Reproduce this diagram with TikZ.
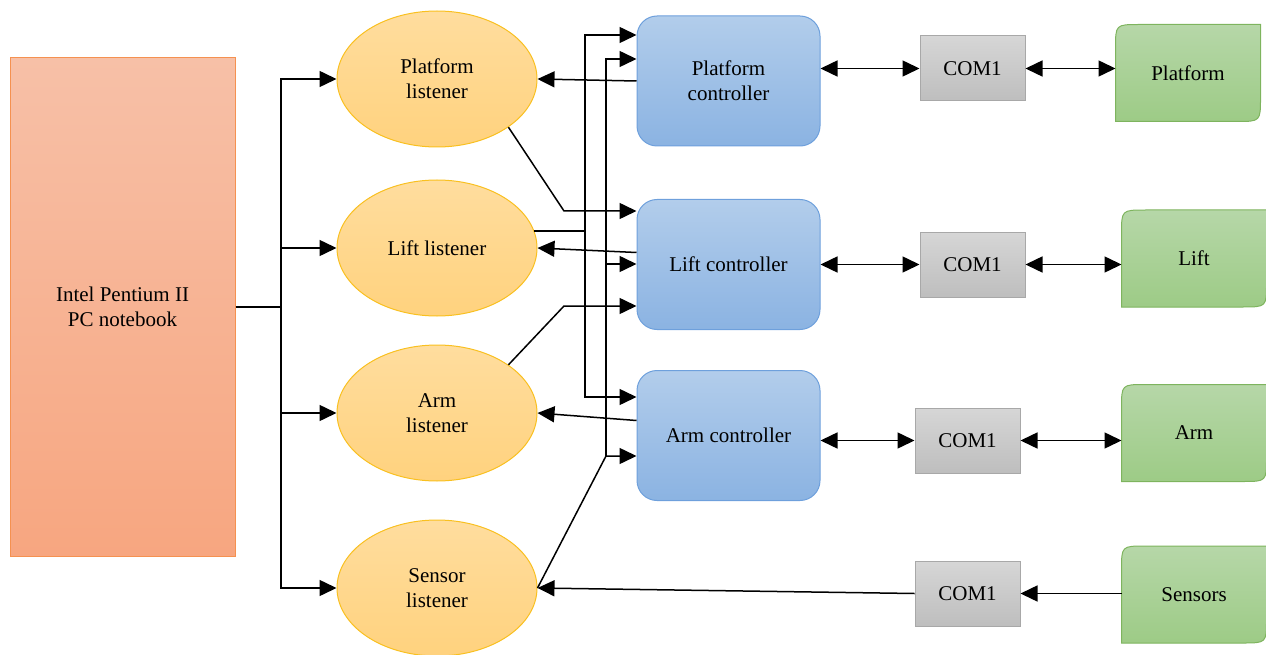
\documentclass[tikz,border=0pt]{standalone}
\usepackage{fontspec}
\setmainfont{Liberation Serif}
\usetikzlibrary{arrows.meta,shapes.geometric,backgrounds}

\definecolor{pcline}{RGB}{245,145,80}
\definecolor{pctop}{RGB}{247,192,167}
\definecolor{pcbot}{RGB}{247,166,128}
\definecolor{lsline}{RGB}{249,192,32}
\definecolor{lstop}{RGB}{255,221,158}
\definecolor{lsbot}{RGB}{255,210,126}
\definecolor{ctline}{RGB}{110,160,220}
\definecolor{cttop}{RGB}{178,205,235}
\definecolor{ctbot}{RGB}{139,179,226}
\definecolor{ptline}{RGB}{168,168,168}
\definecolor{pttop}{RGB}{214,214,214}
\definecolor{ptbot}{RGB}{190,190,190}
\definecolor{dvline}{RGB}{126,180,94}
\definecolor{dvtop}{RGB}{182,215,168}
\definecolor{dvbot}{RGB}{157,203,134}

\tikzset{
	box/.style={inner sep=0pt, align=center, font=\fontsize{21}{25}\selectfont, line width=1pt},
	pcbox/.style={box, rectangle, draw=pcline, top color=pctop, bottom color=pcbot, minimum width=225pt, minimum height=498pt},
	listener/.style={box, ellipse, draw=lsline, top color=lstop, bottom color=lsbot, minimum width=200pt, minimum height=136pt},
	ctrl/.style={box, rectangle, rounded corners=20pt, draw=ctline, top color=cttop, bottom color=ctbot, minimum width=183pt, minimum height=130pt},
	port/.style={box, rectangle, draw=ptline, top color=pttop, bottom color=ptbot, minimum width=105pt, minimum height=65pt},
	device/.style={box, minimum width=144pt, minimum height=96pt},
	devshade/.style={draw=dvline, line width=1pt, top color=dvtop, bottom color=dvbot},
	arr/.style={-{Triangle[length=17pt,width=16pt]}, line width=1.5pt},
	dbl/.style={{Triangle[length=17pt,width=16pt]}-{Triangle[length=17pt,width=16pt]}, line width=1.5pt}
}

\begin{document}
\begin{tikzpicture}[x=1pt, y=1pt]

	\useasboundingbox (0,0) rectangle (1266,-655);

	\pgfmathsetmacro\busl{281};
	\pgfmathsetmacro\busa{585};
	\pgfmathsetmacro\busb{606};
	\pgfmathsetmacro\rc{24};

	% computer
	\node[pcbox] (PC) at (122.5,-307) {Intel Pentium II\\PC notebook};

	% listeners
	\node[listener] (L1) at (437,-79) {Platform\\listener};
	\node[listener] (L2) at (437,-248) {Lift listener};
	\node[listener] (L3) at (437,-413) {Arm\\listener};
	\node[listener] (L4) at (437,-588) {Sensor\\listener};

	% controllers
	\node[ctrl] (C1) at (728.5,-81) {Platform\\controller};
	\node[ctrl] (C2) at (728.5,-264.5) {Lift controller};
	\node[ctrl] (C3) at (728.5,-435.5) {Arm controller};

	% serial ports
	\node[port] (S1) at (972.5,-68.5) {COM1};
	\node[port] (S2) at (972.5,-264.5) {COM1};
	\node[port] (S3) at (967.5,-440.5) {COM1};
	\node[port] (S4) at (967.5,-593.5) {COM1};

	% devices
	\node[device] (D1) at (1188,-73) {Platform};
	\node[device] (D2) at (1194,-258.5) {Lift};
	\node[device] (D3) at (1194,-433) {Arm};
	\node[device] (D4) at (1194,-594.5) {Sensors};
	\begin{scope}[on background layer]
		\foreach \d in {D1,D2,D3,D4}
			\draw[devshade] (\d.south west) -- ([yshift=-\rc pt]\d.north west) .. controls (\d.north west) .. ([xshift=\rc pt]\d.north west)
				-- (\d.north east) -- ([yshift=\rc pt]\d.south east) .. controls (\d.south east) .. ([xshift=-\rc pt]\d.south east) -- cycle;
	\end{scope}

	% computer to listeners
	\coordinate (J) at (\busl,-307);
	\draw[line width=1.5pt] (PC.east) -- (J);
	\foreach \l in {L1,L2,L3,L4}
		\draw[arr] (J) |- (\l.west);

	% controllers back to listeners
	\draw[arr] (C1.west) -- (L1.east);
	\draw[arr] ([yshift=12pt]C2.west) -- (L2.east);
	\draw[arr] ([yshift=15pt]C3.west) -- (L3.east);
	\draw[arr] (S4.west) -- (L4.east);

	% listeners to controllers
	\draw[arr] (L1.-34) -- (564,-211) -- (C2.west |- 0,-211);
	\draw[arr] (L3.34) -- (564,-306) -- (C2.west |- 0,-306);
	\draw[arr] (L2.10) -| (\busa,-35) -- (C1.west |- 0,-35);
	\draw[arr] (\busa,-231) |- (C3.west |- 0,-397);
	\draw[arr] (L4.east) -- (\busb,-456) -- (C3.west |- 0,-456);
	\draw[arr] (\busb,-456) |- (C1.west |- 0,-59);
	\draw[arr] (\busb,-264) -- (C2.west |- 0,-264);

	% serial links
	\draw[dbl] (C1.east |- S1.west) -- (S1.west);
	\draw[dbl] (C2.east |- S2.west) -- (S2.west);
	\draw[dbl] (C3.east |- S3.west) -- (S3.west);
	\draw[dbl] (S1.east) -- (D1.west |- S1.east);
	\draw[dbl] (S2.east) -- (D2.west |- S2.east);
	\draw[dbl] (S3.east) -- (D3.west |- S3.east);
	\draw[arr] (D4.west |- S4.east) -- (S4.east);

\end{tikzpicture}
\end{document}
